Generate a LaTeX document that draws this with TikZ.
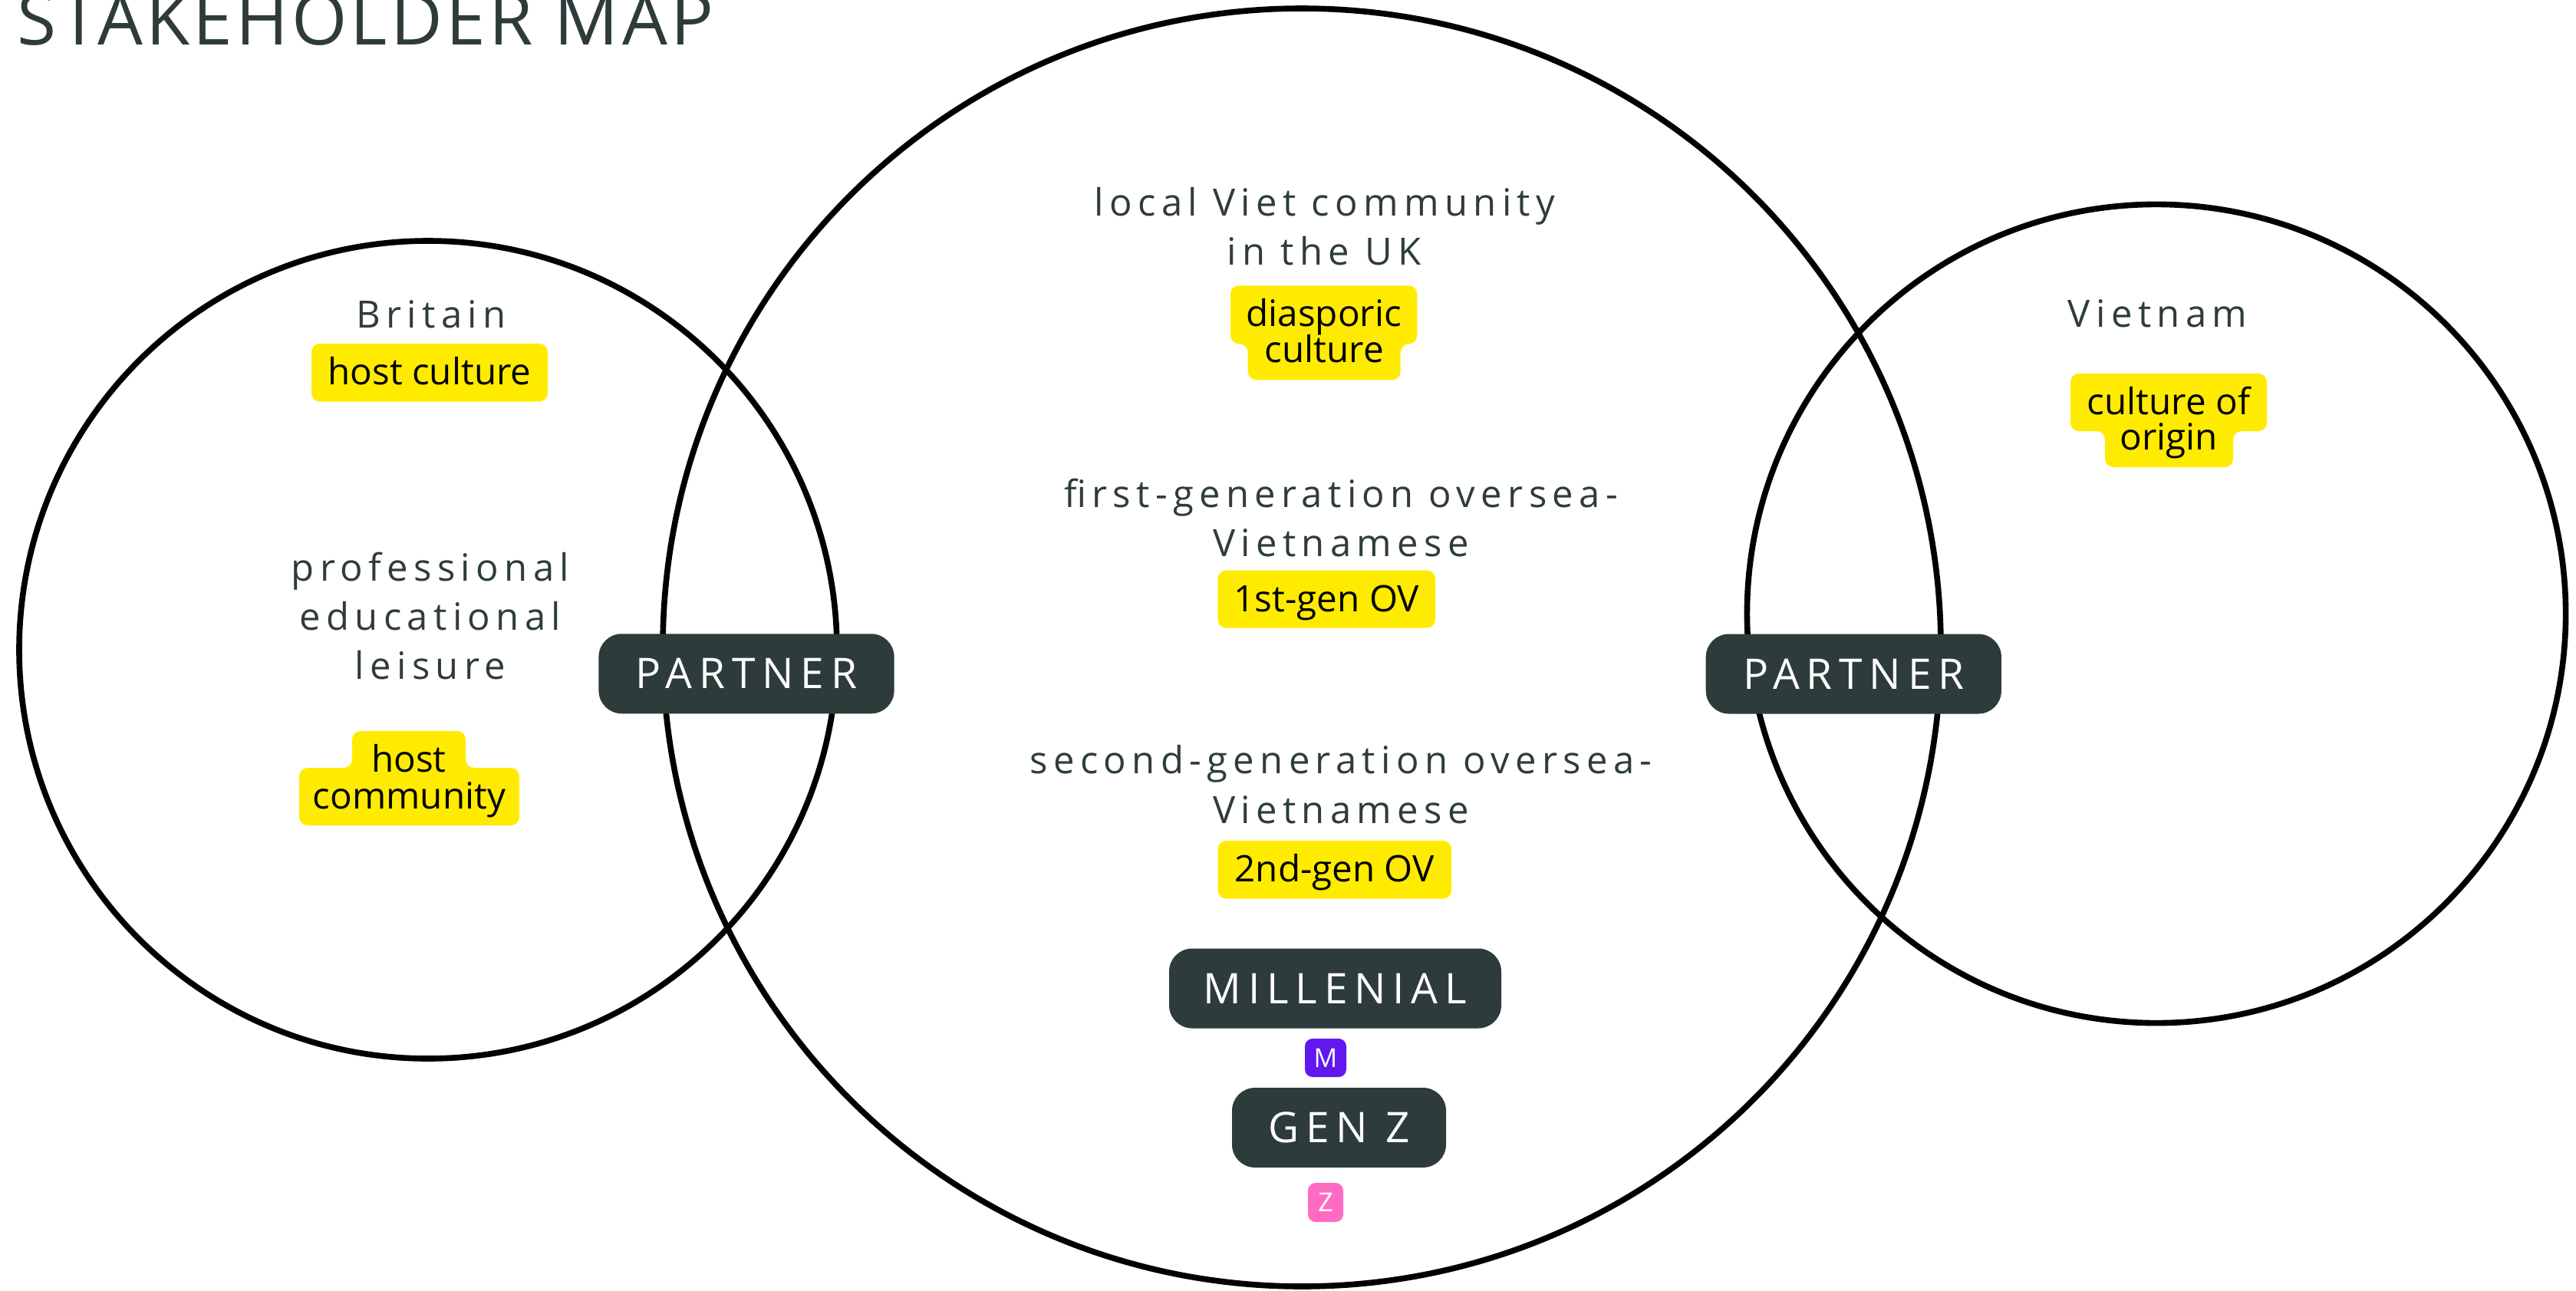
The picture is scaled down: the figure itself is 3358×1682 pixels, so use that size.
\documentclass[tikz,border=0pt]{standalone}
\usepackage{fontspec}
\setmainfont{Open Sans}
\newfontfamily\titlefont[LetterSpace=4.5]{Open Sans}
\newfontfamily\labfont[LetterSpace=15]{Open Sans}
\newfontfamily\pillfont[LetterSpace=16]{Open Sans}
\newfontfamily\hlfont{Open Sans}

\definecolor{slate}{HTML}{2D3B3B}
\definecolor{labgray}{HTML}{2E3C3C}
\definecolor{hlyellow}{HTML}{FFEB00}
\definecolor{badgepurple}{HTML}{6117EE}
\definecolor{badgepink}{HTML}{FF6BC2}

\begin{document}
\begin{tikzpicture}[
  x=0.25pt, y=-0.25pt,
  ring/.style={draw=black, line width=1.9pt},
  glab/.style={font=\labfont\fontsize{12.25}{15}\selectfont, text=labgray, inner sep=0pt, anchor=base},
  hltext/.style={font=\hlfont\fontsize{11.9}{14}\selectfont, text=black, inner sep=0pt, anchor=base},
  hlbox/.style={fill=hlyellow, rounded corners=2.75pt, inner sep=0pt, text=black,
    font=\hlfont\fontsize{11.9}{14}\selectfont, text height=9pt, text depth=1pt},
  hlshape/.style={fill=hlyellow, rounded corners=2.75pt},
  pill/.style={fill=slate, text=white, rounded corners=7.5pt, inner sep=0pt,
    font=\pillfont\fontsize{13.75}{16}\selectfont, minimum height=26pt},
  badge/.style={text=white, rounded corners=2.5pt, inner sep=0pt,
    font=\hlfont\fontsize{8.5}{10}\selectfont}
]
\useasboundingbox (0,0) rectangle (3358,1682);
\fill[white] (0,0) rectangle (3358,1682);

% title
\node[anchor=base west, inner sep=0pt, text=slate,
      font=\titlefont\fontsize{23.25}{28}\selectfont] (title) at (22,58) {STAKEHOLDER MAP};

% the three overlapping circles
\draw[ring] (558,847) circle[radius=133.25pt];
\draw[ring] (1697,844) circle[radius=208.25pt];
\draw[ring] (2811,800) circle[radius=133.4pt];

% ---- Britain (left circle)
\node[glab] (britain) at (562,427) {Britain};
\node[hlbox, minimum width=77pt, minimum height=18.9pt] (hostculture) at (560,485.75) {host culture};
\node[glab] (prof) at (561,757) {professional};
\node[glab] (educ) at (561,821) {educational};
\node[glab] (leis) at (561,885) {leisure};
\path[hlshape] (459,953) -- (607,953) -- (607,1001) -- (677,1001) -- (677,1076)
  -- (390,1076) -- (390,1001) -- (459,1001) -- cycle;
\node[hltext] (hostA) at (533,1006) {host};
\node[hltext] (hostB) at (533.5,1054) {community};

% ---- local Viet community (middle circle)
\node[glab] (localA) at (1727,281) {local Viet community};
\node[glab] (localB) at (1726,345.5) {in the UK};
\path[hlshape] (1604,372.3) -- (1847.3,372.3) -- (1847.3,448.3) -- (1825.7,448.3)
  -- (1825.7,495.3) -- (1626.7,495.3) -- (1626.7,448.3) -- (1604,448.3) -- cycle;
\node[hltext] (diasA) at (1725.7,425) {diasporic};
\node[hltext] (diasB) at (1726.2,472.7) {culture};

\node[glab] (firstA) at (1748,661) {first-generation oversea-};
\node[glab] (firstB) at (1748,725) {Vietnamese};
\node[hlbox, minimum width=70.9pt, minimum height=18.75pt] (firstOV) at (1729.25,781) {1st-gen OV};

\node[glab] (secondA) at (1748,1008) {second-generation oversea-};
\node[glab] (secondB) at (1748,1073) {Vietnamese};
\node[hlbox, minimum width=76.1pt, minimum height=18.9pt] (secondOV) at (1739.75,1133.75) {2nd-gen OV};

\node[pill, minimum width=108.25pt] (millenial) at (1740.5,1288.5) {MILLENIAL};
\node[badge, fill=badgepurple, minimum width=13.5pt, minimum height=12.5pt] (mbadge) at (1728,1379) {M};
\node[pill, minimum width=69.75pt] (genz) at (1745.5,1470) {GEN Z};
\node[badge, fill=badgepink, minimum width=11.5pt, minimum height=12.75pt] (zbadge) at (1728,1567.5) {Z};

% ---- Vietnam (right circle)
\node[glab] (vietnam) at (2812.6,426.5) {Vietnam};
\path[hlshape] (2699,487) -- (2955,487) -- (2955,562) -- (2911,562) -- (2911,609)
  -- (2744,609) -- (2744,562) -- (2699,562) -- cycle;
\node[hltext] (originA) at (2827,540) {culture of};
\node[hltext] (originB) at (2827,586) {origin};

% ---- partner overlaps
\node[pill, minimum width=96.3pt] (partnerL) at (973,878.25) {PARTNER};
\node[pill, minimum width=96.3pt] (partnerR) at (2416.3,878.5) {PARTNER};
\end{tikzpicture}
\end{document}
